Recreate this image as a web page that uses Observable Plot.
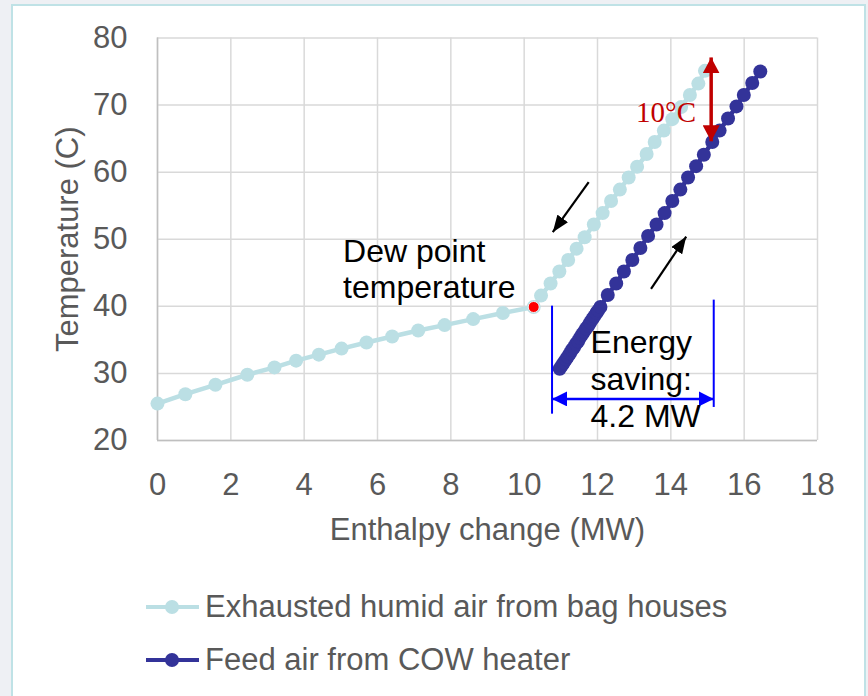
<!DOCTYPE html>
<html><head><meta charset="utf-8">
<script src="https://cdn.jsdelivr.net/npm/d3@7"></script>
<script src="https://cdn.jsdelivr.net/npm/@observablehq/plot@0.6"></script>
<style>
html,body{margin:0;padding:0;width:868px;height:696px;overflow:hidden;background:#eef0f4;font-family:"Liberation Sans",Arial,sans-serif;}
#panel{position:absolute;left:11px;top:4px;width:851px;height:700px;background:#fff;border:2px solid #bfe2e6;}
#chart{position:absolute;left:0;top:0;}
.row{position:absolute;left:145px;height:40px;display:flex;align-items:center;color:#595959;font-size:31px;white-space:nowrap;}
.row svg{display:block;margin-right:5px;}
</style></head><body>
<div id="panel"></div>
<div id="chart"></div>
<div id="legend"></div>
<script>
// Series: exhausted humid air (light) and feed air (dark)
const exhaustX = [0,0.76,1.58,2.45,3.19,3.78,4.40,5.02,5.70,6.40,7.11,7.83,8.61,9.42,10.26,10.46,10.72,10.96,11.20,11.43,11.65,11.90,12.14,12.37,12.61,12.85,13.08,13.34,13.56,13.81,14.04,14.28,14.52,14.75,14.93];
const exhaustY = [25.5,26.9,28.3,29.8,30.9,31.9,32.8,33.7,34.6,35.5,36.4,37.2,38.1,39.0,39.9,41.6,43.4,45.2,46.9,48.6,50.3,52.2,53.9,55.7,57.4,59.2,60.8,62.7,64.5,66.2,67.9,69.7,71.5,73.2,75.1];
const feedX = [10.97,11.03,11.08,11.14,11.19,11.25,11.30,11.36,11.41,11.47,11.52,11.58,11.63,11.69,11.75,11.80,11.86,11.91,11.97,12.02,12.08,12.28,12.51,12.72,12.95,13.17,13.38,13.61,13.83,14.04,14.26,14.47,14.69,14.90,15.13,15.33,15.56,15.79,15.99,16.22,16.44];
const feedY = [30.7,31.2,31.6,32.1,32.5,33.0,33.5,33.9,34.4,34.8,35.3,35.8,36.2,36.7,37.1,37.6,38.1,38.5,39.0,39.4,39.9,41.7,43.4,45.2,46.9,48.7,50.5,52.2,53.9,55.7,57.4,59.2,60.9,62.6,64.5,66.2,68.0,69.8,71.5,73.3,75.0];
const seriesNames = ["Exhausted humid air from bag houses","Feed air from COW heater"];
const seriesColors = ["#bbdfe4","#333399"];

// Axes
const xTicks = [0,2,4,6,8,10,12,14,16,18];
const yTicks = [20,30,40,50,60,70,80];
const xLabel = "Enthalpy change (MW)";
const yLabel = "Temperature (C)";

// Dew point marker
const dewX = [10.26];
const dewY = [39.9];

// Annotations
const noteText = ["Dew point","temperature","Energy","saving:","4.2 MW"];
const noteX = [5.06,5.06,11.81,11.81,11.81];
const noteY = [48.1,42.7,34.5,29.0,23.5];
const flowX1 = [11.76,13.46];
const flowY1 = [58.5,42.6];
const flowX2 = [10.78,14.42];
const flowY2 = [51.05,50.4];
const deltaText = ["10°C"];
const deltaTextX = [13.87];
const deltaTextY = [68.9];
const deltaX = [15.10];
const deltaY1 = [77.1];
const deltaY2 = [64.6];
const bracketX = [10.76,15.17];
const bracketY1 = [40.1,41.0];
const bracketY2 = [24.0,25.0];
const savingY = [26.2];

const exhaust = exhaustX.map((x,i)=>({x, y: exhaustY[i]}));
const feed = feedX.map((x,i)=>({x, y: feedY[i]}));
const dew = dewX.map((x,i)=>({x, y: dewY[i]}));
const notes = noteText.map((t,i)=>({t, x: noteX[i], y: noteY[i]}));
const flows = flowX1.map((x,i)=>({x1:x, y1:flowY1[i], x2:flowX2[i], y2:flowY2[i]}));
const delta = deltaX.map((x,i)=>({x, y1:deltaY1[i], y2:deltaY2[i]}));
const deltaLab = deltaText.map((t,i)=>({t, x:deltaTextX[i], y:deltaTextY[i]}));
const brackets = bracketX.map((x,i)=>({x, y1:bracketY1[i], y2:bracketY2[i]}));
const saving = savingY.map(y=>({x1:bracketX[0], x2:bracketX[1], y}));

const FONT = "Liberation Sans, Arial, sans-serif";
const GRAY = "#595959";

const svg = Plot.plot({
  width: 868, height: 560,
  marginLeft: 157, marginRight: 51, marginTop: 37.5, marginBottom: 120,
  style: {background: "transparent", fontFamily: FONT},
  x: {domain: [0,18]},
  y: {domain: [20,80]},
  marks: [
    Plot.gridX(xTicks, {stroke: "#d9d9d9", strokeOpacity: 1, strokeWidth: 1.5}),
    Plot.gridY(yTicks, {stroke: "#d9d9d9", strokeOpacity: 1, strokeWidth: 1.5}),
    Plot.ruleX([0], {stroke: "#bfbfbf", strokeWidth: 1.5}),
    Plot.ruleY([20], {stroke: "#bfbfbf", strokeWidth: 1.5}),
    Plot.axisX(xTicks, {tickSize: 0, tickPadding: 32, fontSize: 31, fill: GRAY, label: null, fontFamily: FONT}),
    Plot.axisY(yTicks, {tickSize: 0, tickPadding: 30, fontSize: 31, fill: GRAY, label: null, fontFamily: FONT}),
    Plot.text([xLabel], {text: d=>d, frameAnchor: "bottom", dy: 99, fontSize: 31, fill: GRAY, fontFamily: FONT}),
    Plot.text([yLabel], {text: d=>d, frameAnchor: "left", textAnchor: "middle", dx: -89, rotate: -90, fontSize: 31, fill: GRAY, fontFamily: FONT}),
    Plot.line(exhaust, {x: "x", y: "y", stroke: seriesColors[0], strokeWidth: 4.5}),
    Plot.dot(exhaust, {x: "x", y: "y", r: 7, fill: seriesColors[0]}),
    Plot.line(feed, {x: "x", y: "y", stroke: seriesColors[1], strokeWidth: 4.5}),
    Plot.dot(feed, {x: "x", y: "y", r: 7, fill: seriesColors[1]}),
    Plot.dot(dew, {x: "x", y: "y", r: 5.5, fill: "#ff0000", stroke: "#e8f5f6", strokeWidth: 1}),
    Plot.link(flows, {x1: "x1", y1: "y1", x2: "x2", y2: "y2", stroke: "#000000", strokeWidth: 2.2, markerEnd: "arrow"}),
    Plot.link(delta, {x1: "x", x2: "x", y1: "y1", y2: "y2", stroke: "#c00000", strokeWidth: 3.5, markerStart: "arrow", markerEnd: "arrow"}),
    Plot.link(brackets, {x1: "x", x2: "x", y1: "y1", y2: "y2", stroke: "#0000ff", strokeWidth: 2}),
    Plot.link(saving, {x1: "x1", x2: "x2", y1: "y", y2: "y", stroke: "#0000ff", strokeWidth: 2.5, markerStart: "arrow", markerEnd: "arrow"}),
    Plot.text(notes, {x: "x", y: "y", text: "t", textAnchor: "start", fontSize: 32, fill: "#000000", fontFamily: FONT}),
    Plot.text(deltaLab, {x: "x", y: "y", text: "t", fontSize: 29, fill: "#c00000", fontFamily: "Liberation Serif, DejaVu Serif, serif"})
  ]
});

// filled arrowheads
const headSpec = {"#000000": [17, 13], "#c00000": [16, 17], "#0000ff": [15, 15]};
svg.querySelectorAll("marker").forEach(m => {
  const c = (m.getAttribute("stroke") || "#000000").toLowerCase();
  const [L, W] = headSpec[c] || [14, 12];
  m.setAttribute("markerUnits", "userSpaceOnUse");
  m.setAttribute("orient", "auto-start-reverse");
  m.setAttribute("viewBox", `${-L} ${-W/2} ${L} ${W}`);
  m.setAttribute("markerWidth", L);
  m.setAttribute("markerHeight", W);
  m.setAttribute("fill", c);
  m.setAttribute("stroke", "none");
  const p = m.querySelector("path");
  if (p) p.setAttribute("d", `M0,0L${-L},${-W/2}L${-L},${W/2}Z`);
});
document.getElementById("chart").appendChild(svg);

// legend
const legend = document.getElementById("legend");
const rowTops = [587, 640];
seriesNames.forEach((name, i) => {
  const row = document.createElement("div");
  row.className = "row";
  row.style.top = rowTops[i] + "px";
  const sw = d3.create("svg").attr("width", 55).attr("height", 20);
  sw.append("line").attr("x1", 1).attr("x2", 54).attr("y1", 10).attr("y2", 10).attr("stroke", seriesColors[i]).attr("stroke-width", 4);
  sw.append("circle").attr("cx", 27).attr("cy", 10).attr("r", 7).attr("fill", seriesColors[i]);
  row.appendChild(sw.node());
  const span = document.createElement("span");
  span.textContent = name;
  row.appendChild(span);
  legend.appendChild(row);
});
</script>
</body></html>
